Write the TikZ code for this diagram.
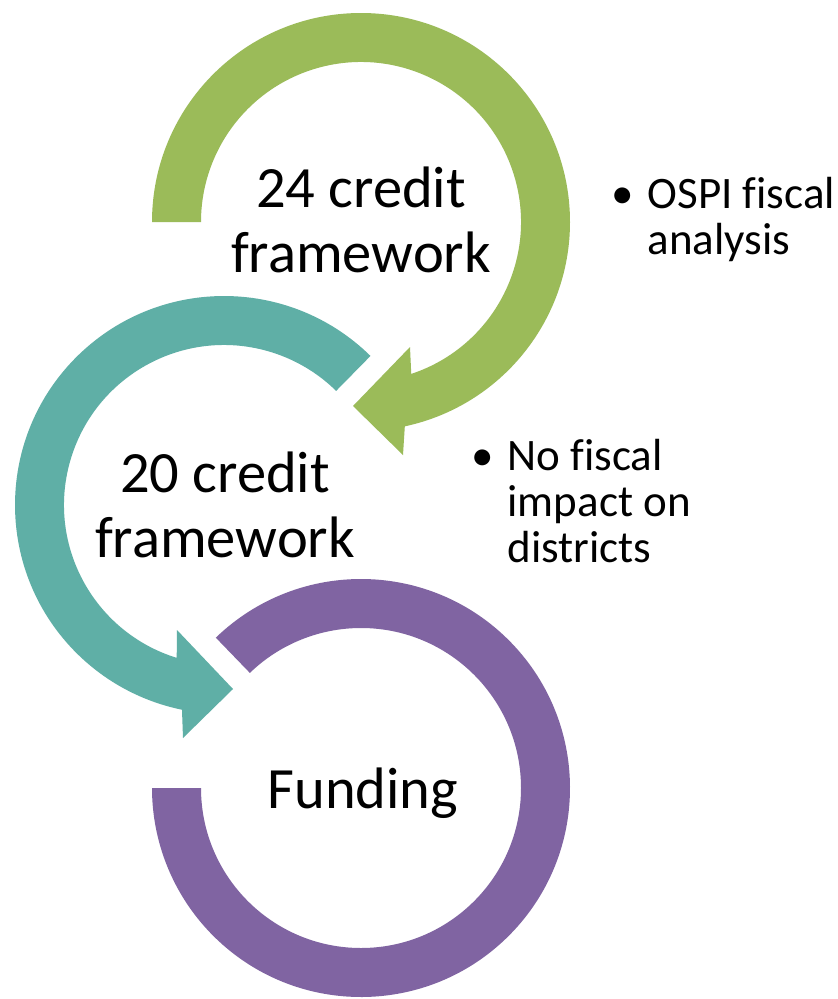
\documentclass[tikz,border=0pt]{standalone}
\usepackage{fontspec}
\setmainfont{Carlito}[Ligatures=NoCommon]
\usetikzlibrary{calc}
\definecolor{cgreen}{HTML}{9BBB59}
\definecolor{cteal}{HTML}{5FAFA6}
\definecolor{cpurple}{HTML}{8064A2}
\tikzset{
  bigtext/.style={inner sep=0pt, anchor=base, font=\fontsize{58.5}{65}\selectfont},
  smalltext/.style={inner sep=0pt, anchor=base west, font=\fontsize{45}{46}\selectfont},
}
\newcommand{\bigblock}[2]{\begin{tabular}[t]{@{}c@{}}#1\\#2\end{tabular}}
\begin{document}
\begin{tikzpicture}[x=1pt,y=-1pt]
\useasboundingbox[fill=white] (0,0) rectangle (838,999);
\coordinate (gc) at (361,222);
\coordinate (tc) at (224,505);
\coordinate (pc) at (361,788);
% purple ring
\fill[cpurple] ($(pc)+(226:209)$) arc[start angle=226, end angle=540, radius=209]
  -- ($(pc)+(180:160)$) arc[start angle=540, end angle=226, radius=160] -- cycle;
% teal arrow
\fill[cteal] ($(tc)+(314.5:209)$) arc[start angle=314.5, end angle=101.6, radius=209]
  -- (183,738) -- (233,689) -- (177,630)
  -- ($(tc)+(107.2:160)$) arc[start angle=107.2, end angle=314.5, radius=160] -- cycle;
% green arrow
\fill[cgreen] ($(gc)+(180:209)$) arc[start angle=180, end angle=437.9, radius=209]
  -- (403,455) -- (353,406) -- (410,347)
  -- ($(gc)+(431.7:160)$) arc[start angle=431.7, end angle=180, radius=160] -- cycle;
% texts
\node[bigtext] (t24) at (361,207) {\bigblock{24 credit}{framework}};
\node[bigtext] (t20) at (225,492) {\bigblock{20 credit}{framework}};
\node[bigtext] (tfund) at (363,808) {Funding};
\node[smalltext] (ospi) at (611,208) {\begin{tabular}[t]{@{}l@{\hspace{14pt}}l@{}}\textbullet & OSPI fiscal\\ & analysis\end{tabular}};
\node[smalltext] (nofisc) at (471,470) {\begin{tabular}[t]{@{}l@{\hspace{14pt}}l@{}}\textbullet & No fiscal\\ & impact on\\ & districts\end{tabular}};
\end{tikzpicture}
\end{document}
